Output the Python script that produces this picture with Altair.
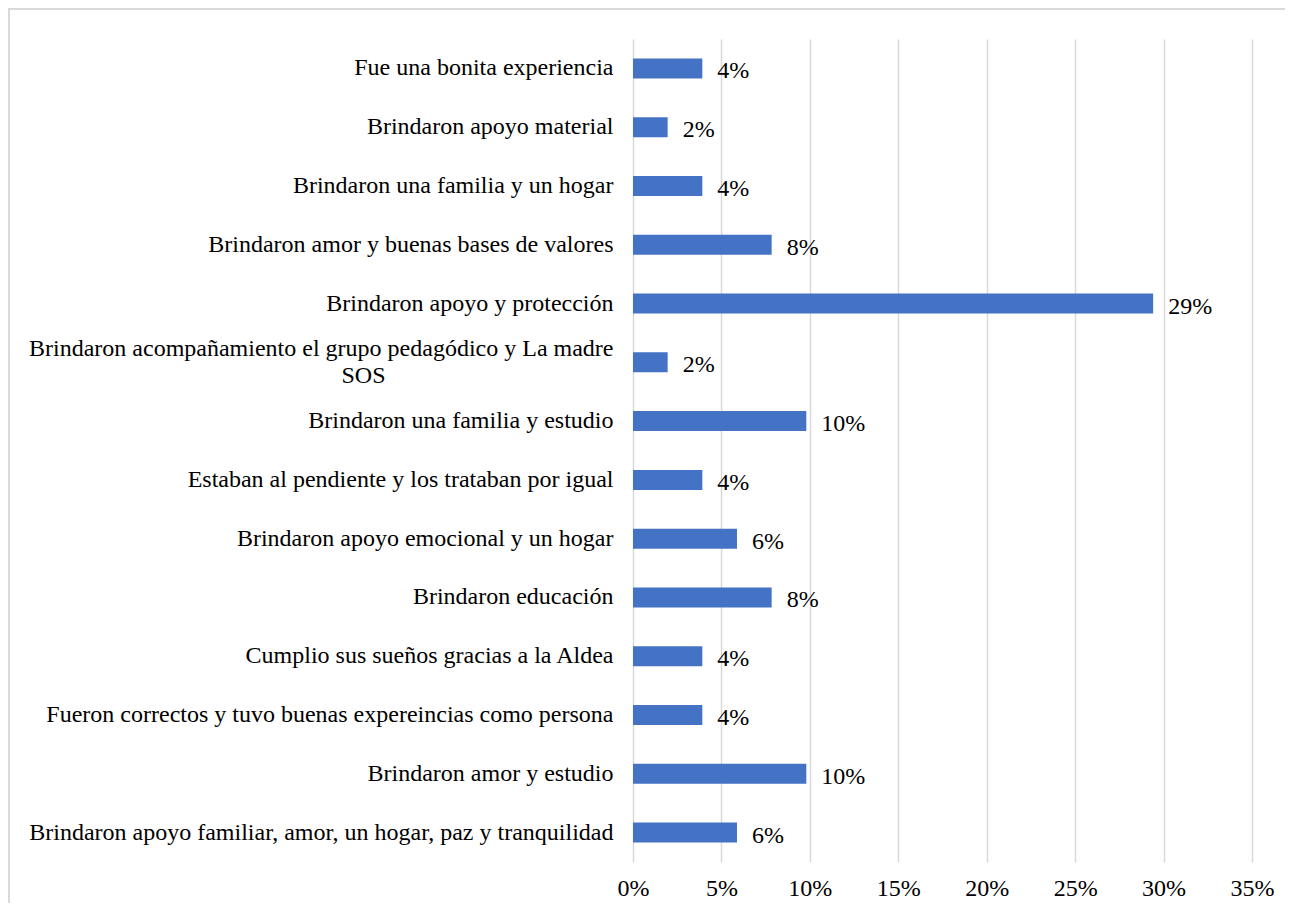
import altair as alt
import pandas as pd

NB = "\u00a0"
ZW = "\u200b"
categories = [
    "Fue una bonita experiencia",
    "Brindaron apoyo material",
    "Brindaron una familia y un hogar",
    "Brindaron amor y buenas bases de valores",
    "Brindaron apoyo y protección",
    "Brindaron acompañamiento el grupo pedagódico y La madre|SOS" + NB * 38 + ZW,
    "Brindaron una familia y estudio",
    "Estaban al pendiente y los trataban por igual",
    "Brindaron apoyo emocional y un hogar",
    "Brindaron educación",
    "Cumplio sus sueños gracias a la Aldea",
    "Fueron correctos y tuvo buenas expereincias como persona",
    "Brindaron amor y estudio",
    "Brindaron apoyo familiar, amor, un hogar, paz y tranquilidad",
]
values = [0.0392, 0.0196, 0.0392, 0.0784, 0.2941, 0.0196, 0.0980,
          0.0392, 0.0588, 0.0784, 0.0392, 0.0392, 0.0980, 0.0588]
labels = ["4%", "2%", "4%", "8%", "29%", "2%", "10%",
          "4%", "6%", "8%", "4%", "4%", "10%", "6%"]
ticks = [0, 0.05, 0.10, 0.15, 0.20, 0.25, 0.30, 0.35]

df = pd.DataFrame({"cat": categories, "val": values, "lab": labels})

FONT = "Liberation Serif"
FS = 24
W, H = 619, 823

x = alt.X("val:Q", scale=alt.Scale(domain=[0, 0.35], nice=False),
          axis=alt.Axis(values=ticks, format=".0%", title=None, domain=False,
                        ticks=False, grid=True, gridColor="#d9d9d9", gridWidth=1.5,
                        labelFont=FONT, labelFontSize=FS, labelColor="#000000",
                        labelPadding=14, labelFlush=False))
y = alt.Y("cat:N", sort=None,
          scale=alt.Scale(paddingInner=0.66, paddingOuter=0.33),
          axis=alt.Axis(title=None, domain=False, ticks=False,
                        labelFont=FONT, labelFontSize=FS, labelColor="#000000",
                        labelPadding=20, labelLimit=0, labelLineHeight=27,
                        labelOffset={"condition": {"test": "indexof(datum.value, '|') >= 0",
                                                   "value": -13}, "value": 0},
                        labelExpr="split(datum.label, '|')"))

bars = alt.Chart(df).mark_bar(color="#4472C4").encode(x=x, y=y)
text = alt.Chart(df).mark_text(align="left", dx=15, dy=3, font=FONT, fontSize=FS,
                               color="#000000", baseline="middle").encode(
    x="val:Q", y=alt.Y("cat:N", sort=None), text="lab:N")

frame = alt.Chart(df).mark_rect(fill=None, stroke="#d9d9d9", strokeWidth=1.5).encode(
    x=alt.value(-624), x2=alt.value(720), y=alt.value(-30), y2=alt.value(900))

chart = alt.layer(bars, text, frame).properties(
    width=W, height=H,
    autosize=alt.AutoSizeParams(type="none"),
    padding={"left": 625, "top": 31, "right": 33, "bottom": 41},
    background="white",
).configure_view(stroke=None)

chart.save("out.html", embed_options={"renderer": "svg", "actions": False})
